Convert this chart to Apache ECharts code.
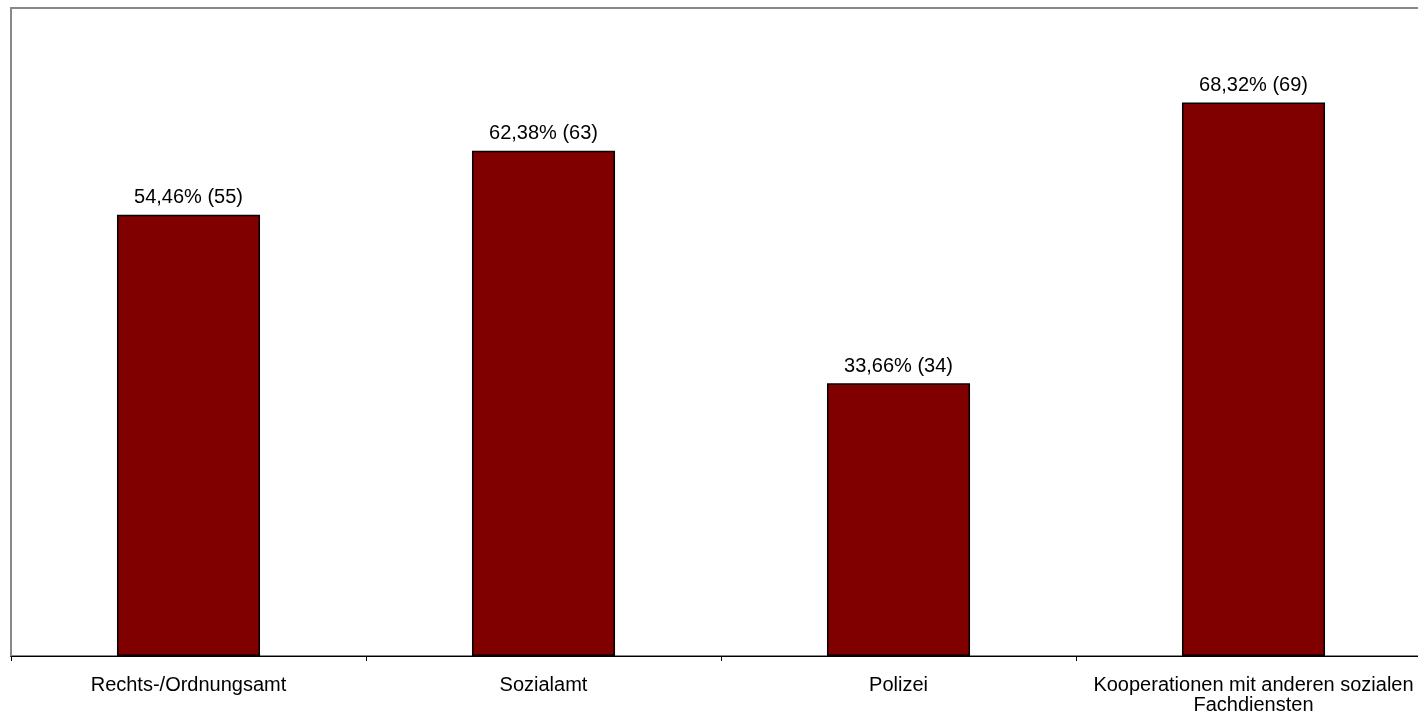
<!DOCTYPE html>
<html>
<head>
<meta charset="utf-8">
<script src="https://cdn.jsdelivr.net/npm/echarts@6/dist/echarts.min.js"></script>
<style>html,body{margin:0;padding:0;background:#fff;overflow:hidden;width:1418px;height:715px}#c{width:1431px;height:715px}</style>
</head>
<body>
<div id="c"></div>
<script>
const categories = ['Rechts-/Ordnungsamt', 'Sozialamt', 'Polizei', 'Kooperationen mit anderen sozialen\nFachdiensten'];
const percentValues = [54.46, 62.38, 33.66, 68.32];
const counts = [55, 63, 34, 69];

const chart = echarts.init(document.getElementById('c'), null, {renderer: 'canvas'});
chart.setOption({
  animation: false,
  grid: {left: 11, top: 8, right: 0, bottom: 58, show: true, borderColor: '#888', borderWidth: 2, backgroundColor: 'transparent', containLabel: false},
  xAxis: {
    type: 'category',
    data: categories,
    boundaryGap: true,
    axisLine: {show: true, lineStyle: {color: '#000', width: 1}},
    axisTick: {show: true, inside: false, length: 5, lineStyle: {color: '#000'}},
    axisLabel: {margin: 19, color: '#000', fontFamily: 'Liberation Sans, Arial, sans-serif', fontSize: 20, lineHeight: 20, interval: 0},
    splitLine: {show: false}
  },
  yAxis: {
    type: 'value', min: 0, max: 80,
    axisLine: {show: true, lineStyle: {color: '#888', width: 2}},
    axisTick: {show: false},
    axisLabel: {show: false},
    splitLine: {show: false}
  },
  series: [{
    type: 'bar',
    data: percentValues,
    barWidth: '40.3%',
    itemStyle: {color: '#800000', borderColor: '#000', borderWidth: 1.5},
    label: {
      show: true, position: 'top', distance: 7, color: '#000',
      fontFamily: 'Liberation Sans, Arial, sans-serif', fontSize: 20,
      formatter: p => p.value.toFixed(2).replace('.', ',') + '% (' + counts[p.dataIndex] + ')'
    }
  }]
});
</script>
</body>
</html>
